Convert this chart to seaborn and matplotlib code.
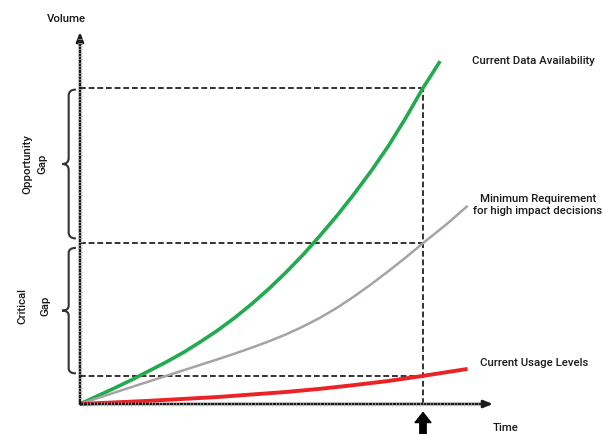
import numpy as np
import pandas as pd
import matplotlib
matplotlib.use("Agg")
import matplotlib.pyplot as plt
from matplotlib.path import Path
from matplotlib.patches import PathPatch
import seaborn as sns

# Time axis runs to 10 at the marked point in time; volume is 100 for available data there.
avail_t = [0, 0.5, 1, 1.5, 2, 2.5, 3, 3.5, 4, 4.5, 5, 5.5, 6, 6.5, 7, 7.5, 8, 8.5, 9, 9.5, 10, 10.5]
avail_v = [0, 2.5, 5.0, 7.6, 10.4, 13.2, 16.2, 19.6, 23.2, 27.2, 31.6, 36.4, 41.6, 47.2,
           53.3, 59.7, 66.6, 73.9, 81.8, 90.6, 100, 108.5]

req_t = [0, 1, 2, 3, 4, 4.5, 5, 5.5, 6, 6.5, 7, 7.5, 8, 8.5, 9, 9.5, 10, 10.7, 11.3]
req_v = [0, 3.6, 7.1, 10.6, 14.1, 15.9, 17.8, 19.8, 22.0, 24.5, 27.3, 30.5, 34.1, 38.0,
         42.1, 46.4, 50.9, 57.0, 62.7]

usage_t = [0, 2, 4, 6, 7, 8, 9, 10, 11.3]
usage_v = [0, 1.0, 2.2, 3.8, 4.8, 6.0, 7.3, 8.9, 11.1]

series_names = ["Current Data Availability", "Minimum Requirement\nfor high impact decisions",
                "Current Usage Levels"]
series_colors = ["#22aa4e", "#a8a2a6", "#ec2227"]
series_widths = [2.6, 1.8, 2.8]

t_mark = 10

sns.set_style("white")
plt.rcParams["font.family"] = ["Roboto", "DejaVu Sans"]

fig = plt.figure(figsize=(6.03, 4.35), dpi=100)
ax = fig.add_axes([0, 0, 1, 1])
ax.set_xlim(-2.332, 15.248)
ax.set_ylim(-9.494, 128.165)

frames = [
    pd.DataFrame({"t": avail_t, "v": avail_v, "s": series_names[0]}),
    pd.DataFrame({"t": req_t, "v": req_v, "s": series_names[1]}),
    pd.DataFrame({"t": usage_t, "v": usage_v, "s": series_names[2]}),
]

# reference lines at the marked time
v_top = avail_v[avail_t.index(t_mark)]
v_mid = req_v[req_t.index(t_mark)]
v_low = usage_v[usage_t.index(t_mark)]
dash = dict(color="#222222", lw=1.3, ls=(0, (3.2, 1.6)), zorder=2)
for v in (v_top, v_mid, v_low):
    ax.plot([0, t_mark], [v, v], **dash)
ax.plot([t_mark, t_mark], [0, v_top], **dash)

for df, col, lw in zip(frames, series_colors, series_widths):
    sns.lineplot(data=df, x="t", y="v", color=col, lw=lw, ax=ax, zorder=4,
                 sort=False, estimator=None, solid_capstyle="butt", solid_joinstyle="round")

# axes with arrow heads
arrow_kw = dict(arrowstyle="-|>,head_width=0.22,head_length=0.55",
                lw=1.8, color="#1a1a1a", shrinkA=0, shrinkB=0)
ax.annotate("", xy=(0, 117.7), xytext=(0, 0), arrowprops=arrow_kw, zorder=5)
ax.annotate("", xy=(12.04, 0), xytext=(0, 0), arrowprops=arrow_kw, zorder=5)

# fine ruler ticks along both axes
for yy in np.arange(2, 116, 1.05):
    ax.plot([-0.05, 0.05], [yy, yy], color="#b8b8b8", lw=0.5, zorder=6)
for xx in np.arange(0.1, 11.7, 0.1):
    ax.plot([xx, xx], [-0.5, 0.5], color="#b8b8b8", lw=0.5, zorder=6)

# marker arrow below the time axis
ax.annotate("", xy=(t_mark, -2.7), xytext=(t_mark, -9.6),
            arrowprops=dict(arrowstyle="simple,head_width=0.95,head_length=0.6,tail_width=0.38",
                            color="black", shrinkA=0, shrinkB=0, mutation_scale=12))


def brace(ax, x_stem, x_tip, x_end, y0, y1, color="#333333"):
    ym = (y0 + y1) / 2
    h = (y1 - y0)
    r = h * 0.04
    verts = [
        (x_end, y1), (x_stem, y1), (x_stem, y1 - r),
        (x_stem, ym + r),
        (x_stem, ym), (x_tip, ym),
        (x_tip, ym), (x_stem, ym), (x_stem, ym - r),
        (x_stem, y0 + r),
        (x_stem, y0), (x_end, y0),
    ]
    codes = [Path.MOVETO, Path.CURVE3, Path.CURVE3,
             Path.LINETO,
             Path.CURVE3, Path.CURVE3,
             Path.MOVETO, Path.CURVE3, Path.CURVE3,
             Path.LINETO,
             Path.CURVE3, Path.CURVE3]
    ax.add_patch(PathPatch(Path(verts, codes), fill=False, ec=color, lw=1.5))


brace(ax, -0.33, -0.52, -0.12, v_mid + 1.5, v_top - 0.5)
brace(ax, -0.33, -0.52, -0.12, v_low + 0.8, v_mid - 1.5)

txt = dict(color="#1a1a1a", fontsize=8.2, fontweight="medium")
ax.text(-0.38, 122.2, "Volume", ha="center", va="center", **txt)
ax.text(12.02, -7.3, "Time", ha="left", va="center", **txt)
ax.text(11.43, 108.9, series_names[0], ha="left", va="center", **txt)
ax.text(13.35, 63.3, series_names[1], ha="center", va="center", linespacing=1.35, **txt)
ax.text(11.66, 13.3, series_names[2], ha="left", va="center", **txt)
ax.text(-1.545, 76.3, "Opportunity", rotation=90, ha="center", va="center", **txt)
ax.text(-1.1, 76.3, "Gap", rotation=90, ha="center", va="center", **txt)
ax.text(-1.69, 31.3, "Critical", rotation=90, ha="center", va="center", **txt)
ax.text(-1.0, 31.3, "Gap", rotation=90, ha="center", va="center", **txt)

ax.set_axis_off()
fig.savefig("out.png", dpi=100, facecolor="white")
